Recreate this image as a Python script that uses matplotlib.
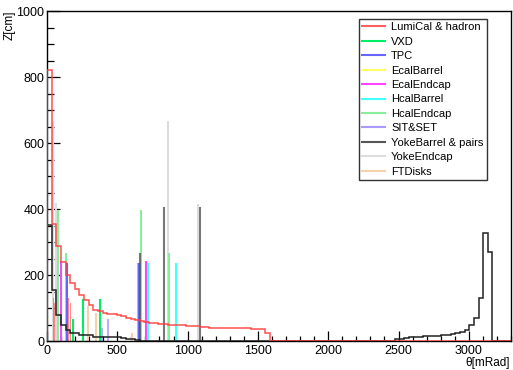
import numpy as np
import matplotlib
matplotlib.use("Agg")
import matplotlib.pyplot as plt
from matplotlib.lines import Line2D

plt.rcParams['font.family'] = ['Liberation Sans', 'DejaVu Sans']

# binning of the step histograms (100 bins, 0..3300 mRad)
edges = np.linspace(0, 3300, 101)

# LumiCal & hadron (step histogram)
lumical = [820, 355, 288, 240, 200, 175, 157, 139, 124, 109,
           94, 90, 86, 83, 81, 79, 75, 71, 67, 63,
           60, 57, 55, 54, 52, 51, 50, 49, 48, 47,
           46, 45, 44, 43, 43, 40, 40, 40, 40, 40,
           40, 40, 40, 40, 35, 35, 35, 23] + [0] * 52

# YokeBarrel & pairs (step histogram)
pairs = [352, 155, 79, 48, 33, 25, 25, 18, 18, 18,
         13, 13, 13, 13, 13, 11, 9, 7, 5, 3] + [0] * 55 + \
        [5, 7, 9, 11, 12, 13, 14, 15, 15, 16, 17, 18, 20, 23, 27,
         33, 48, 69, 131, 328, 271, 0, 0, 0, 0]

# hadron spikes of LumiCal
hadron_theta = [45, 55, 152, 168]
hadron_z = [129, 115, 129, 115]

# spikes of the single detectors: theta [mRad], Z [cm]
vxd_theta = [187, 254, 377]
vxd_z = [66, 126, 126]
tpc_theta = [140, 657]
tpc_z = [235, 235]
ecale_theta = [100, 703]
ecale_z = [242, 242]
hcalb_theta = [717, 919]
hcalb_z = [235, 235]
hcale_theta = [81, 135, 667, 871]
hcale_z = [397, 267, 397, 267]
sit_theta = [650, 390, 432]
sit_z = [235, 40, 66]
yokeb_theta = [662, 829, 1085]
yokeb_z = [268, 405, 405]
yokee_theta = [45, 62, 860, 1073]
yokee_z = [667, 418, 667, 415]
ftd_theta = [292, 349, 603]
ftd_z = [106, 86, 23]

c_lumi = '#ff3b3b'
c_vxd = '#00ee66'
c_tpc = '#6666ff'
c_ecalb = '#ffff66'
c_ecale = '#ff44ff'
c_hcalb = '#44ffff'
c_hcale = '#88ee99'
c_sit = '#aa99ff'
c_yokeb = '#555555'
c_yokee = '#dddddd'
c_ftd = '#f5d2aa'

fig = plt.figure(figsize=(5.13, 3.70), dpi=100)
ax = fig.add_axes([47/513, 29/370, 464/513, 330/370])

lw = 1.5
ax.vlines(yokee_theta, 0, yokee_z, colors=c_yokee, lw=lw, zorder=2)
ax.vlines(ftd_theta, 0, ftd_z, colors=c_ftd, lw=lw, zorder=2)
ax.vlines(hcale_theta, 0, hcale_z, colors=c_hcale, lw=lw, zorder=2)
ax.vlines(sit_theta, 0, sit_z, colors=c_sit, lw=lw, zorder=2, alpha=0.8)
ax.vlines(tpc_theta, 0, tpc_z, colors=c_tpc, lw=lw, zorder=2)
ax.vlines(ecale_theta, 0, ecale_z, colors=c_ecale, lw=lw, zorder=2)
ax.vlines(hcalb_theta, 0, hcalb_z, colors=c_hcalb, lw=lw, zorder=2)
ax.vlines(vxd_theta, 0, vxd_z, colors=c_vxd, lw=lw, zorder=2)
ax.vlines(yokeb_theta, 0, yokeb_z, colors=c_yokeb, lw=lw, zorder=2, alpha=0.8)
ax.bar(hadron_theta, hadron_z, width=9, color=c_lumi, alpha=0.6, lw=0, zorder=2)

ax.stairs(pairs, edges, color='#222222', lw=1.1, zorder=3)
ax.stairs(lumical, edges, color=c_lumi, lw=1.1, alpha=0.9, zorder=4)

ax.set_xlim(0, 3300)
ax.set_ylim(0, 1000)
ax.set_xticks([0, 500, 1000, 1500, 2000, 2500, 3000])
ax.set_xticks(np.arange(0, 3301, 100), minor=True)
ax.set_yticks([0, 200, 400, 600, 800, 1000])
ax.set_yticks(np.arange(0, 1001, 50), minor=True)
ax.tick_params(axis='x', which='major', direction='in', length=7.2, width=0.9, labelsize=9, pad=3)
ax.tick_params(axis='x', which='minor', direction='in', length=3.6, width=0.9)
ax.tick_params(axis='y', which='major', direction='in', length=9.4, width=0.9, labelsize=9, pad=2)
ax.tick_params(axis='y', which='minor', direction='in', length=4.7, width=0.9)
for s in ax.spines.values():
    s.set_linewidth(1.0)

ax.set_xlabel('θ[mRad]', fontsize=8.5, ha='right', va='center')
ax.xaxis.set_label_coords(0.998, -0.068)
ax.set_ylabel('Z[cm]', fontsize=8.5, ha='right', va='center')
ax.yaxis.set_label_coords(-0.08, 1.0)

names = ['LumiCal & hadron', 'VXD', 'TPC', 'EcalBarrel', 'EcalEndcap', 'HcalBarrel',
         'HcalEndcap', 'SIT&SET', 'YokeBarrel & pairs', 'YokeEndcap', 'FTDisks']
cols = ['#ff6060', c_vxd, c_tpc, c_ecalb, c_ecale, c_hcalb, c_hcale, c_sit,
        c_yokeb, c_yokee, c_ftd]
handles = [Line2D([], [], color=c, lw=1.5) for c in cols]
leg = ax.legend(handles, names, loc='upper left', bbox_to_anchor=(0.672, 0.976),
                fontsize=8, frameon=True, fancybox=False, shadow=False,
                handlelength=2.1, handletextpad=0.5, labelspacing=0.4,
                borderpad=0.3, borderaxespad=0)
leg.get_frame().set_edgecolor('black')
leg.get_frame().set_linewidth(1.0)

fig.savefig('out.png', dpi=100)
